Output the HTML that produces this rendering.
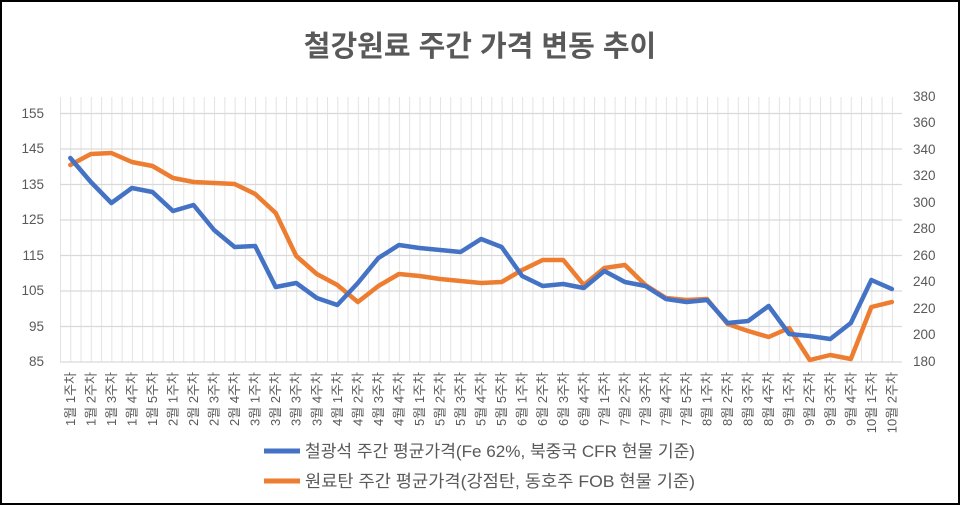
<!DOCTYPE html>
<html><head><meta charset="utf-8"><style>
body{margin:0;background:#fff}
svg{display:block;font-family:"Liberation Sans","Noto Sans CJK KR",sans-serif}
</style></head><body>
<svg width="960" height="505" viewBox="0 0 960 505">
<defs>
<pattern id="vg" x="60" y="0" width="10.27" height="505" patternUnits="userSpaceOnUse">
<line x1="0.5" y1="0" x2="0.5" y2="505" stroke="#e3e3e3" stroke-width="1"/>
</pattern>
</defs>
<rect x="1" y="1" width="958" height="503" fill="#fff" stroke="#000" stroke-width="2"/>
<text x="480" y="56" text-anchor="middle" font-size="29" font-weight="bold" fill="#595959">철강원료 주간 가격 변동 추이</text>
<rect x="60" y="97" width="842" height="265" fill="url(#vg)"/>
<g stroke="#d9d9d9" stroke-width="1.2">
<line x1="60" y1="113.5" x2="902" y2="113.5"/>
<line x1="60" y1="149" x2="902" y2="149"/>
<line x1="60" y1="184.5" x2="902" y2="184.5"/>
<line x1="60" y1="220" x2="902" y2="220"/>
<line x1="60" y1="255.5" x2="902" y2="255.5"/>
<line x1="60" y1="291" x2="902" y2="291"/>
<line x1="60" y1="326.5" x2="902" y2="326.5"/>
<line x1="60" y1="362" x2="902" y2="362"/>
</g>
<g font-size="13.5" fill="#595959" text-anchor="end">
<text x="44" y="118">155</text><text x="44" y="153">145</text><text x="44" y="189">135</text><text x="44" y="224">125</text>
<text x="44" y="260">115</text><text x="44" y="295">105</text><text x="44" y="331">95</text><text x="44" y="366">85</text>
</g>
<g font-size="13.5" fill="#595959" text-anchor="start">
<text x="913" y="101">380</text><text x="913" y="127">360</text><text x="913" y="154">340</text><text x="913" y="180">320</text>
<text x="913" y="207">300</text><text x="913" y="233">280</text><text x="913" y="260">260</text><text x="913" y="286">240</text>
<text x="913" y="313">220</text><text x="913" y="339">200</text><text x="913" y="366">180</text>
</g>
<g transform="translate(70.3,0) scale(20.54,1)" fill="none" stroke-width="4.5" stroke-linejoin="round" stroke-linecap="round">
<polyline vector-effect="non-scaling-stroke" stroke="#ed7d31" points="0,165 1,154 2,153 3,162 4,166 5,178 6,182 7,183 8,184 9,194 10,213 11,256 12,274 13,285 14,302 15,286 16,274 17,276 18,279 19,281 20,283 21,282 22,270 23,260 24,260 25,285 26,268 27,265 28,285 29,298 30,300 31,299 32,324 33,331 34,337 35,328 36,360 37,355 38,359 39,307 40,302"/>
<polyline vector-effect="non-scaling-stroke" stroke="#4472c4" points="0,158 1,182 2,203 3,188 4,192 5,211 6,205 7,230 8,247 9,246 10,287 11,283 12,298 13,305 14,283 15,258 16,245 17,248 18,250 19,252 20,239 21,247 22,276 23,286 24,284 25,288 26,271 27,282 28,286 29,299 30,302 31,300 32,323 33,321 34,306 35,334 36,336 37,339 38,323 39,280 40,289"/>
</g>
<g font-size="13" fill="#595959" text-anchor="end" dominant-baseline="central">
<text transform="translate(70.3,372) rotate(-90)">1월 1주차</text>
<text transform="translate(90.8,372) rotate(-90)">1월 2주차</text>
<text transform="translate(111.4,372) rotate(-90)">1월 3주차</text>
<text transform="translate(131.9,372) rotate(-90)">1월 4주차</text>
<text transform="translate(152.5,372) rotate(-90)">1월 5주차</text>
<text transform="translate(173.0,372) rotate(-90)">2월 1주차</text>
<text transform="translate(193.5,372) rotate(-90)">2월 2주차</text>
<text transform="translate(214.1,372) rotate(-90)">2월 3주차</text>
<text transform="translate(234.6,372) rotate(-90)">2월 4주차</text>
<text transform="translate(255.2,372) rotate(-90)">3월 1주차</text>
<text transform="translate(275.7,372) rotate(-90)">3월 2주차</text>
<text transform="translate(296.2,372) rotate(-90)">3월 3주차</text>
<text transform="translate(316.8,372) rotate(-90)">3월 4주차</text>
<text transform="translate(337.3,372) rotate(-90)">4월 1주차</text>
<text transform="translate(357.9,372) rotate(-90)">4월 2주차</text>
<text transform="translate(378.4,372) rotate(-90)">4월 3주차</text>
<text transform="translate(398.9,372) rotate(-90)">4월 4주차</text>
<text transform="translate(419.5,372) rotate(-90)">5월 1주차</text>
<text transform="translate(440.0,372) rotate(-90)">5월 2주차</text>
<text transform="translate(460.6,372) rotate(-90)">5월 3주차</text>
<text transform="translate(481.1,372) rotate(-90)">5월 4주차</text>
<text transform="translate(501.6,372) rotate(-90)">5월 5주차</text>
<text transform="translate(522.2,372) rotate(-90)">6월 1주차</text>
<text transform="translate(542.7,372) rotate(-90)">6월 2주차</text>
<text transform="translate(563.3,372) rotate(-90)">6월 3주차</text>
<text transform="translate(583.8,372) rotate(-90)">6월 4주차</text>
<text transform="translate(604.3,372) rotate(-90)">7월 1주차</text>
<text transform="translate(624.9,372) rotate(-90)">7월 2주차</text>
<text transform="translate(645.4,372) rotate(-90)">7월 3주차</text>
<text transform="translate(666.0,372) rotate(-90)">7월 4주차</text>
<text transform="translate(686.5,372) rotate(-90)">7월 5주차</text>
<text transform="translate(707.0,372) rotate(-90)">8월 1주차</text>
<text transform="translate(727.6,372) rotate(-90)">8월 2주차</text>
<text transform="translate(748.1,372) rotate(-90)">8월 3주차</text>
<text transform="translate(768.7,372) rotate(-90)">8월 4주차</text>
<text transform="translate(789.2,372) rotate(-90)">9월 1주차</text>
<text transform="translate(809.7,372) rotate(-90)">9월 2주차</text>
<text transform="translate(830.3,372) rotate(-90)">9월 3주차</text>
<text transform="translate(850.8,372) rotate(-90)">9월 4주차</text>
<text transform="translate(871.4,372) rotate(-90)">10월 1주차</text>
<text transform="translate(891.9,372) rotate(-90)">10월 2주차</text>
</g>
<line x1="264" y1="451" x2="300" y2="451" stroke="#4472c4" stroke-width="5"/>
<text x="305" y="457" font-size="17" fill="#595959" textLength="390" lengthAdjust="spacingAndGlyphs">철광석 주간 평균가격(Fe 62%, 북중국 CFR 현물 기준)</text>
<line x1="264" y1="481" x2="300" y2="481" stroke="#ed7d31" stroke-width="5"/>
<text x="305" y="487" font-size="17" fill="#595959" textLength="390" lengthAdjust="spacingAndGlyphs">원료탄 주간 평균가격(강점탄, 동호주 FOB 현물 기준)</text>
</svg>
</body></html>
